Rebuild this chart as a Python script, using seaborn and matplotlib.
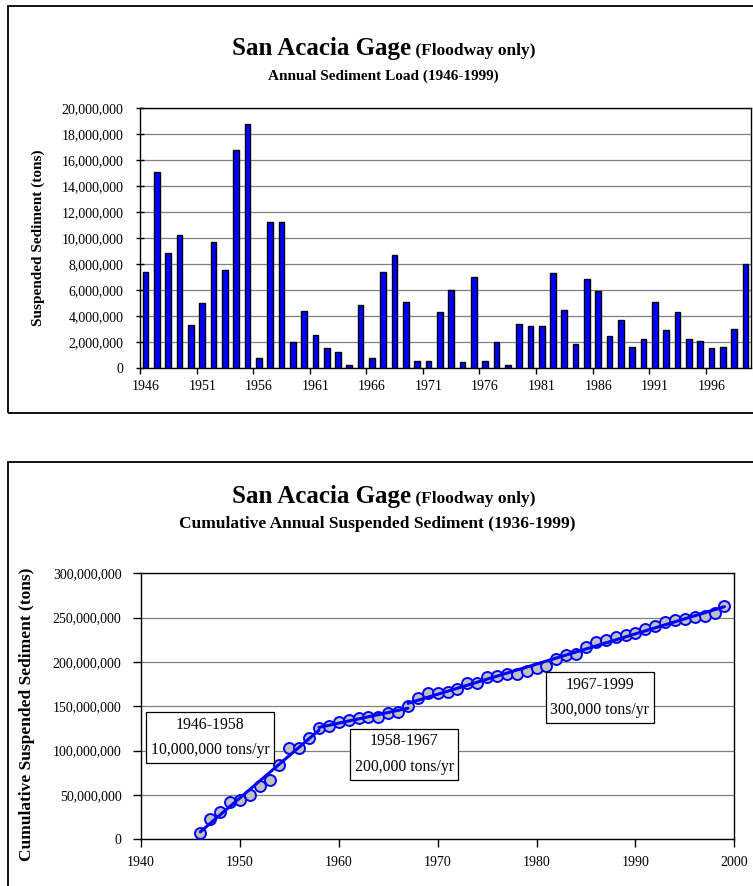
import numpy as np
import pandas as pd
import matplotlib
matplotlib.use("Agg")
import matplotlib.pyplot as plt
import seaborn as sns
from matplotlib.ticker import FuncFormatter, FixedLocator, MultipleLocator
from matplotlib.patches import Rectangle

# ---- data -------------------------------------------------------------
years = list(range(1946, 2000))

# annual suspended sediment load, million tons
annual_load_mt = [
    7.40, 15.10, 8.85, 10.20, 3.30, 5.00, 9.70, 7.56, 16.80, 18.77,   # 1946-1955
    0.74, 11.23, 11.23, 2.00, 4.41, 2.56, 1.56, 1.26, 0.26, 4.87,     # 1956-1965
    0.74, 7.36, 8.67, 5.08, 0.51, 0.51, 4.33, 6.00, 0.44, 6.97,       # 1966-1975
    0.51, 2.00, 0.26, 3.38, 3.20, 3.20, 7.28, 4.44, 1.82, 6.82,       # 1976-1985
    5.90, 2.49, 3.69, 1.64, 2.20, 5.08, 2.95, 4.33, 2.20, 2.10,       # 1986-1995
    1.56, 1.64, 3.03, 8.03,                                           # 1996-1999
]

# trend periods and their labels
trend_periods = [(1946, 1958), (1958, 1967), (1967, 1999)]
trend_labels = ["1946-1958\n10,000,000 tons/yr",
                "1958-1967\n200,000 tons/yr",
                "1967-1999\n300,000 tons/yr"]
label_pos = [(1947.0, 115e6), (1966.6, 96e6), (1986.4, 160e6)]

bar_tick_labels = [str(y) for y in years[::5]]

df = pd.DataFrame({"year": years,
                   "load": np.array(annual_load_mt) * 1e6})
df["cumulative"] = df["load"].cumsum()

# ---- style --------------------------------------------------------------
sns.set_theme(style="white")
plt.rcParams["font.family"] = ["Liberation Serif", "DejaVu Serif"]
plt.rcParams["axes.edgecolor"] = "black"
plt.rcParams["axes.linewidth"] = 1.0
plt.rcParams["text.color"] = "black"
plt.rcParams["axes.labelcolor"] = "black"
plt.rcParams["xtick.color"] = "black"
plt.rcParams["ytick.color"] = "black"

W, H = 753, 886
fig = plt.figure(figsize=(W / 100, H / 100), dpi=100)
fig.patch.set_facecolor("white")

comma = FuncFormatter(lambda v, p: f"{int(round(v)):,}")

# chart frames
fig.add_artist(Rectangle((8 / W, 1 - 412.5 / H), (780 - 8) / W, (412.5 - 6) / H,
                         transform=fig.transFigure, fill=False, ec="black", lw=1.3))
fig.add_artist(Rectangle((8 / W, 1 - 900 / H), (780 - 8) / W, (900 - 462) / H,
                         transform=fig.transFigure, fill=False, ec="black", lw=1.3))


def title_line(y_px, cx_px, big, small, big_size, small_size):
    t1 = fig.text(0, 1 - y_px / H, big, fontsize=big_size, weight="bold",
                  va="baseline", ha="left")
    t2 = fig.text(0, 1 - y_px / H, " " + small, fontsize=small_size, weight="bold",
                  va="baseline", ha="left")
    r = fig.canvas.get_renderer()
    w1 = t1.get_window_extent(r).width
    w2 = t2.get_window_extent(r).width
    x0 = cx_px - (w1 + w2) / 2
    t1.set_x(x0 / W)
    t2.set_x((x0 + w1) / W)


# ---- annual load bars ---------------------------------------------------
ax1 = fig.add_axes([140 / W, 1 - 368 / H, 611 / W, 260 / H])
sns.barplot(data=df, x="year", y="load", color="#0000FF", saturation=1,
            edgecolor="black", linewidth=1.0, width=0.5, ax=ax1)
ax1.set_xlim(-0.5, len(years) - 0.5)
ax1.set_ylim(0, 20e6)
ax1.yaxis.set_major_locator(MultipleLocator(2e6))
ax1.yaxis.set_major_formatter(comma)
ax1.grid(axis="y", color="#808080", lw=0.9)
ax1.set_axisbelow(True)
ax1.xaxis.set_major_locator(FixedLocator(list(range(0, len(years), 5))))
ax1.set_xticklabels(bar_tick_labels)
ax1.xaxis.set_minor_locator(FixedLocator([i - 0.5 for i in range(0, len(years), 5)]))
ax1.tick_params(axis="x", which="major", length=0, pad=9, labelsize=10)
ax1.tick_params(axis="x", which="minor", length=4, width=1, direction="out",
                color="black", bottom=True)
ax1.tick_params(axis="y", length=6, width=1, direction="inout", pad=9,
                labelsize=10, color="black", left=True)
ax1.set_xlabel("")
ax1.set_ylabel("Suspended Sediment (tons)", fontsize=11, weight="bold")
ax1.yaxis.set_label_coords(-0.155, 0.5)
for s in ax1.spines.values():
    s.set_visible(True)
    s.set_color("black")

title_line(55, 384, "San Acacia Gage", "(Floodway only)", 18, 12.5)
fig.text(383 / W, 1 - 80 / H, "Annual Sediment Load (1946-1999)", fontsize=11,
         weight="bold", ha="center", va="baseline")

# ---- cumulative curve ----------------------------------------------------
ax2 = fig.add_axes([141 / W, 1 - 839.3 / H, 593.3 / W, 266 / H])
sns.scatterplot(data=df, x="year", y="cumulative", s=62, color="#C0C0C0",
                edgecolor="#0000FF", linewidth=1.4, ax=ax2, zorder=3)
for (y0, y1) in trend_periods:
    seg = df[(df["year"] >= y0) & (df["year"] <= y1)]
    sns.regplot(data=seg, x="year", y="cumulative", scatter=False, ci=None,
                truncate=True, color="#0000FF", line_kws={"lw": 2.2, "zorder": 4},
                ax=ax2)
for txt, (xp, yp) in zip(trend_labels, label_pos):
    ax2.text(xp, yp, txt, ha="center", va="center", fontsize=11.3, linespacing=1.8,
             zorder=6, bbox=dict(boxstyle="square,pad=0.3", fc="white", ec="black",
                                 lw=0.9))
ax2.set_xlim(1940, 2000)
ax2.set_ylim(0, 300e6)
ax2.xaxis.set_major_locator(MultipleLocator(10))
ax2.yaxis.set_major_locator(MultipleLocator(50e6))
ax2.yaxis.set_major_formatter(comma)
ax2.grid(axis="y", color="#808080", lw=0.9)
ax2.set_axisbelow(True)
ax2.tick_params(axis="both", length=6, width=1, direction="out", labelsize=10,
                color="black", left=True, bottom=True)
ax2.tick_params(axis="y", pad=8)
ax2.tick_params(axis="x", pad=6)
ax2.set_xlabel("")
ax2.set_ylabel("Cumulative Suspended Sediment (tons)", fontsize=12.5, weight="bold")
ax2.yaxis.set_label_coords(-0.178, 0.47)
for s in ax2.spines.values():
    s.set_visible(True)
    s.set_color("black")

title_line(503, 384, "San Acacia Gage", "(Floodway only)", 18, 12.5)
fig.text(377 / W, 1 - 528 / H, "Cumulative Annual Suspended Sediment (1936-1999)",
         fontsize=12.5, weight="bold", ha="center", va="baseline")

fig.savefig("out.png", dpi=100, facecolor="white")
